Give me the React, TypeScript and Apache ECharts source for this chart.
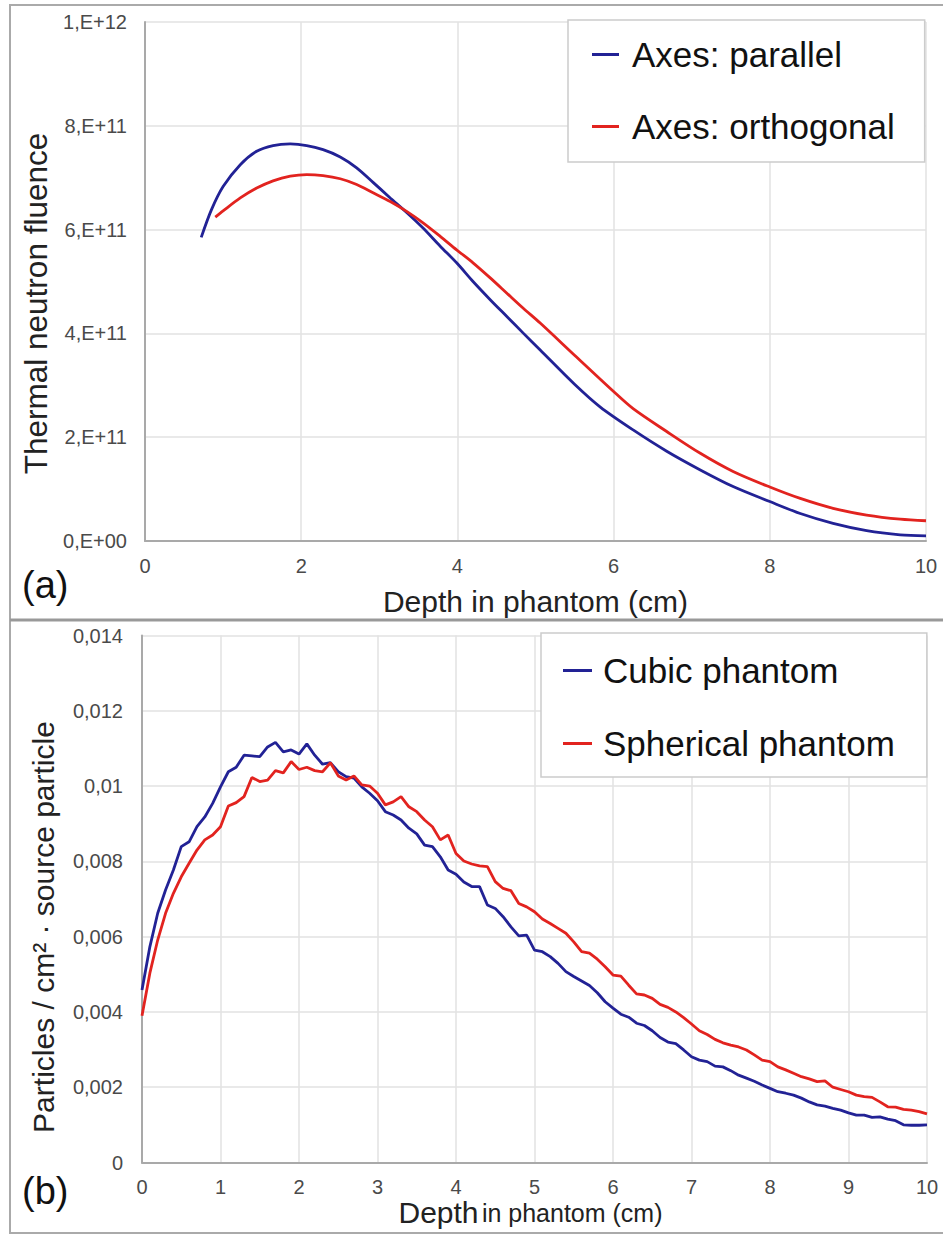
import React, { useEffect, useRef } from "react";
import * as echarts from "echarts";

// Panel (a): thermal neutron fluence vs depth
const parallelDepth = [0.72, 0.85, 1.0, 1.22, 1.43, 1.64, 1.86, 2.07, 2.28, 2.5, 2.71, 2.92, 3.14, 3.35, 3.56, 3.78, 3.99, 4.2, 4.42, 4.63, 4.84, 5.06, 5.5, 5.83, 6.25, 6.68, 7.11, 7.53, 8.0, 8.39, 8.81, 9.24, 9.67, 10.0];
const parallelFluence = [5.85e11, 6.38e11, 6.83e11, 7.25e11, 7.51e11, 7.62e11, 7.65e11, 7.62e11, 7.54e11, 7.4e11, 7.19e11, 6.91e11, 6.61e11, 6.33e11, 6.03e11, 5.68e11, 5.36e11, 5.0e11, 4.65e11, 4.33e11, 4.01e11, 3.68e11, 3.02e11, 2.58e11, 2.14e11, 1.73e11, 1.37e11, 1.05e11, 0.76e11, 0.53e11, 0.34e11, 0.2e11, 0.12e11, 0.1e11];
const orthogonalDepth = [0.9, 1.0, 1.22, 1.43, 1.64, 1.86, 2.07, 2.28, 2.5, 2.71, 2.92, 3.14, 3.35, 3.56, 3.78, 3.99, 4.2, 4.42, 4.63, 4.84, 5.06, 5.5, 6.0, 6.25, 6.68, 7.11, 7.53, 8.0, 8.39, 8.81, 9.24, 9.67, 10.0];
const orthogonalFluence = [6.24e11, 6.36e11, 6.61e11, 6.8e11, 6.94e11, 7.03e11, 7.06e11, 7.04e11, 6.98e11, 6.87e11, 6.71e11, 6.54e11, 6.35e11, 6.13e11, 5.87e11, 5.61e11, 5.36e11, 5.07e11, 4.78e11, 4.49e11, 4.2e11, 3.58e11, 2.88e11, 2.55e11, 2.11e11, 1.69e11, 1.34e11, 1.04e11, 0.82e11, 0.63e11, 0.5e11, 0.42e11, 0.39e11];

// Panel (b): particles / cm2 per source particle vs depth
const phantomDepth = [0, 0.1, 0.2, 0.3, 0.4, 0.5, 0.6, 0.7, 0.8, 0.9, 1.0, 1.1, 1.2, 1.3, 1.4, 1.5, 1.6, 1.7, 1.8, 1.9, 2.0, 2.1, 2.2, 2.3, 2.4, 2.5, 2.6, 2.7, 2.8, 2.9, 3.0, 3.1, 3.2, 3.3, 3.4, 3.5, 3.6, 3.7, 3.8, 3.9, 4.0, 4.1, 4.2, 4.3, 4.4, 4.5, 4.6, 4.7, 4.8, 4.9, 5.0, 5.1, 5.2, 5.3, 5.4, 5.5, 5.6, 5.7, 5.8, 5.9, 6.0, 6.1, 6.2, 6.3, 6.4, 6.5, 6.6, 6.7, 6.8, 6.9, 7.0, 7.1, 7.2, 7.3, 7.4, 7.5, 7.6, 7.7, 7.8, 7.9, 8.0, 8.1, 8.2, 8.3, 8.4, 8.5, 8.6, 8.7, 8.8, 8.9, 9.0, 9.1, 9.2, 9.3, 9.4, 9.5, 9.6, 9.7, 9.8, 9.9, 10.0];
const cubicValues = [0.00458, 0.00573, 0.00662, 0.00724, 0.00777, 0.00839, 0.00852, 0.00892, 0.00918, 0.00954, 0.00998, 0.01038, 0.0105, 0.01082, 0.0108, 0.01078, 0.01104, 0.01116, 0.01091, 0.01096, 0.01085, 0.01112, 0.01082, 0.01058, 0.01062, 0.01038, 0.01025, 0.01021, 0.00998, 0.00981, 0.00961, 0.00932, 0.00923, 0.0091, 0.00888, 0.00873, 0.00843, 0.00839, 0.00812, 0.00777, 0.00766, 0.00745, 0.00733, 0.00733, 0.00684, 0.00675, 0.00653, 0.00626, 0.00602, 0.00604, 0.00564, 0.0056, 0.00547, 0.00529, 0.00507, 0.00494, 0.00482, 0.0047, 0.00451, 0.00427, 0.0041, 0.00394, 0.00386, 0.0037, 0.00364, 0.0035, 0.00332, 0.0032, 0.00316, 0.00299, 0.00281, 0.00272, 0.00268, 0.00256, 0.00254, 0.00244, 0.00232, 0.00224, 0.00216, 0.00206, 0.00197, 0.00188, 0.00184, 0.00179, 0.00171, 0.00161, 0.00153, 0.0015, 0.00144, 0.00139, 0.00132, 0.00126, 0.00126, 0.0012, 0.00121, 0.00115, 0.00111, 0.001, 0.00099, 0.00099, 0.001];
const sphericalValues = [0.0039, 0.00503, 0.00591, 0.00662, 0.00715, 0.00759, 0.00795, 0.0083, 0.00857, 0.0087, 0.00892, 0.00947, 0.00956, 0.00972, 0.01023, 0.01012, 0.01016, 0.01041, 0.01035, 0.01065, 0.01044, 0.0105, 0.01041, 0.01038, 0.01062, 0.01027, 0.01016, 0.01027, 0.01003, 0.01, 0.00981, 0.0095, 0.00958, 0.00972, 0.00945, 0.00932, 0.0091, 0.00892, 0.00857, 0.0087, 0.00821, 0.00801, 0.00793, 0.00788, 0.00786, 0.00746, 0.00728, 0.00722, 0.00688, 0.00679, 0.00666, 0.00647, 0.00635, 0.00622, 0.00609, 0.00586, 0.0056, 0.00556, 0.0054, 0.0052, 0.00498, 0.00495, 0.00471, 0.00448, 0.00445, 0.00436, 0.0042, 0.00412, 0.004, 0.00385, 0.00368, 0.0035, 0.0034, 0.00327, 0.00318, 0.00312, 0.00307, 0.00299, 0.00286, 0.00272, 0.00268, 0.00254, 0.00246, 0.00237, 0.00228, 0.00222, 0.00215, 0.00217, 0.002, 0.00194, 0.00188, 0.00179, 0.00175, 0.00173, 0.00161, 0.00148, 0.00147, 0.00141, 0.00139, 0.00135, 0.00129];

const legendA = ["Axes: parallel", "Axes: orthogonal"];
const legendB = ["Cubic phantom", "Spherical phantom"];

const BLUE = "#222295";
const RED = "#e2231f";
const FONT = "'Liberation Sans', Arial, sans-serif";

const pairs = (xs: number[], ys: number[]) => xs.map((x, i) => [x, ys[i]]);

const sciLabel = (v: number) => {
  if (v === 0) return "0,E+00";
  const e = Math.floor(Math.log10(v) + 1e-9);
  const m = Math.round(v / Math.pow(10, e));
  return `${m},E+${e}`;
};
const decLabel = (v: number) => String(+v.toFixed(3)).replace(".", ",");

export default function App() {
  const ref = useRef<HTMLDivElement>(null);
  useEffect(() => {
    if (!ref.current) return;
    const chart = echarts.init(ref.current, undefined, { renderer: "svg" });
    const axisLine = { show: true, lineStyle: { color: "#a9a9a9", width: 2 } };
    const splitLine = { show: true, lineStyle: { color: "#e2e2e2", width: 1.5 } };
    const tickLabel = { fontSize: 20, color: "#4a4a4a", fontFamily: FONT };
    const legendBase = {
      orient: "vertical",
      icon: "rect",
      itemHeight: 3,
      backgroundColor: "#fff",
      borderColor: "#cccccc",
      borderWidth: 1.5,
      selectedMode: false,
      textStyle: { fontSize: 35, color: "#111", fontFamily: FONT },
    };
    chart.setOption({
      animation: false,
      backgroundColor: "#fff",
      grid: [
        { left: 145, top: 22, width: 781, height: 519 },
        { left: 142, top: 635.5, width: 785, height: 527 },
      ],
      legend: [
        {
          ...legendBase,
          data: legendA,
          left: 568,
          top: 20,
          itemWidth: 27,
          itemGap: 37,
          padding: [17, 30, 18, 24],
          textStyle: { ...legendBase.textStyle, padding: [0, 0, 0, 8] },
        },
        {
          ...legendBase,
          data: legendB,
          left: 541,
          top: 633,
          itemWidth: 29,
          itemGap: 38,
          padding: [20, 32, 16, 22],
          textStyle: { ...legendBase.textStyle, padding: [0, 0, 0, 6] },
        },
      ],
      xAxis: [
        {
          type: "value",
          gridIndex: 0,
          min: 0,
          max: 10,
          interval: 2,
          axisLine,
          axisTick: { show: false },
          splitLine,
          axisLabel: { ...tickLabel, margin: 15 },
          name: "Depth in phantom (cm)",
          nameLocation: "middle",
          nameGap: 45,
          nameTextStyle: { fontSize: 30, color: "#222", fontFamily: FONT },
        },
        {
          type: "value",
          gridIndex: 1,
          min: 0,
          max: 10,
          interval: 1,
          axisLine,
          axisTick: { show: false },
          splitLine,
          axisLabel: { ...tickLabel, margin: 14 },
          name: "{a|Depth} {b|in phantom (cm)}",
          nameLocation: "middle",
          nameGap: 35,
          nameTextStyle: {
            color: "#222",
            fontFamily: FONT,
            padding: [0, 8, 0, 0],
            rich: {
              a: { fontSize: 30, color: "#222", fontFamily: FONT },
              b: { fontSize: 25, color: "#222", fontFamily: FONT },
            },
          },
        },
      ],
      yAxis: [
        {
          type: "value",
          gridIndex: 0,
          min: 0,
          max: 1e12,
          interval: 2e11,
          axisLine,
          axisTick: { show: false },
          splitLine,
          axisLabel: { ...tickLabel, margin: 18, formatter: sciLabel },
          name: "Thermal neutron fluence",
          nameLocation: "middle",
          nameGap: 91,
          nameTextStyle: { fontSize: 31.5, color: "#222", fontFamily: FONT, padding: [0, 44, 0, 0] },
        },
        {
          type: "value",
          gridIndex: 1,
          min: 0,
          max: 0.014,
          interval: 0.002,
          axisLine,
          axisTick: { show: false },
          splitLine,
          axisLabel: { ...tickLabel, margin: 19, formatter: decLabel },
          name: "Particles / cm² · source particle",
          nameLocation: "middle",
          nameGap: 84,
          nameTextStyle: { fontSize: 30, color: "#222", fontFamily: FONT, padding: [0, 56, 0, 0] },
        },
      ],
      series: [
        {
          name: legendA[0],
          type: "line",
          xAxisIndex: 0,
          yAxisIndex: 0,
          data: pairs(parallelDepth, parallelFluence),
          smooth: 0.3,
          symbol: "none",
          color: BLUE,
          lineStyle: { color: BLUE, width: 2.8 },
        },
        {
          name: legendA[1],
          type: "line",
          xAxisIndex: 0,
          yAxisIndex: 0,
          data: pairs(orthogonalDepth, orthogonalFluence),
          smooth: 0.3,
          symbol: "none",
          color: RED,
          lineStyle: { color: RED, width: 2.8 },
        },
        {
          name: legendB[0],
          type: "line",
          xAxisIndex: 1,
          yAxisIndex: 1,
          data: pairs(phantomDepth, cubicValues),
          symbol: "none",
          color: BLUE,
          lineStyle: { color: BLUE, width: 2.8 },
        },
        {
          name: legendB[1],
          type: "line",
          xAxisIndex: 1,
          yAxisIndex: 1,
          data: pairs(phantomDepth, sphericalValues),
          symbol: "none",
          color: RED,
          lineStyle: { color: RED, width: 2.8 },
        },
      ],
      graphic: [
        { type: "line", shape: { x1: 10, y1: 5, x2: 943, y2: 5 }, style: { stroke: "#aaaaaa", lineWidth: 2 } },
        { type: "line", shape: { x1: 10, y1: 4, x2: 10, y2: 1234 }, style: { stroke: "#aaaaaa", lineWidth: 2 } },
        { type: "line", shape: { x1: 10, y1: 620, x2: 943, y2: 620 }, style: { stroke: "#999999", lineWidth: 3 } },
        { type: "line", shape: { x1: 10, y1: 1233, x2: 943, y2: 1233 }, style: { stroke: "#aaaaaa", lineWidth: 2 } },
        { type: "text", left: 22, top: 566, style: { text: "(a)", fontSize: 38, fill: "#111", fontFamily: FONT } },
        { type: "text", left: 22, top: 1172, style: { text: "(b)", fontSize: 38, fill: "#111", fontFamily: FONT } },
      ],
    });
    return () => chart.dispose();
  }, []);
  return <div ref={ref} style={{ position: "absolute", left: 0, top: 0, width: 943, height: 1236 }} />;
}
